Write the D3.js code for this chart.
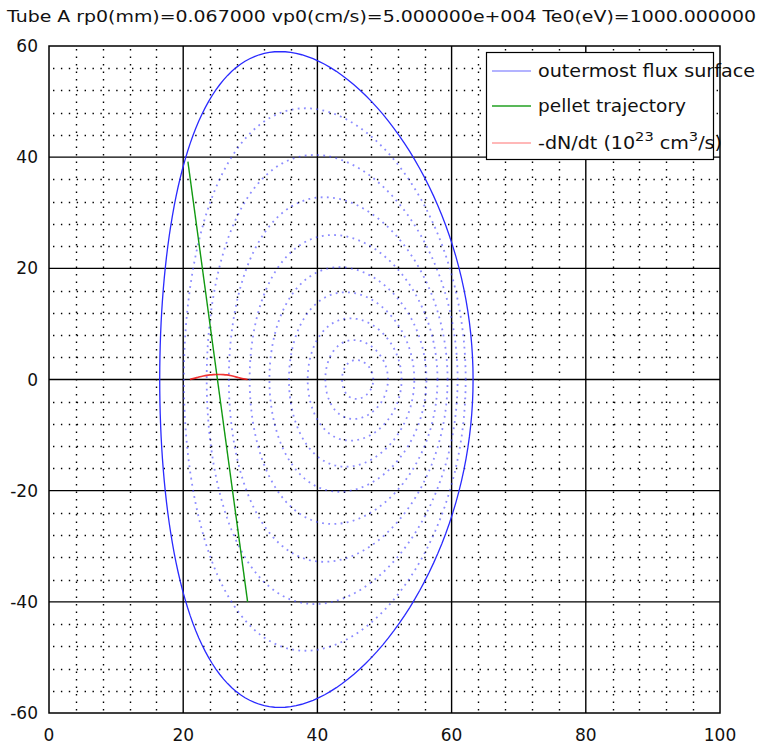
<!DOCTYPE html>
<html>
<head>
<meta charset="utf-8">
<script src="https://cdn.jsdelivr.net/npm/d3@7"></script>
<style>
  html, body { margin: 0; padding: 0; background: #fff; }
  svg { display: block; font-family: "DejaVu Sans", sans-serif; }
</style>
</head>
<body>
<div id="chart"></div>
<script>
// Flux surfaces + pellet trajectory

const titleText = 'Tube A rp0(mm)=0.067000 vp0(cm/s)=5.000000e+004 Te0(eV)=1000.000000';

const xTicks = [0, 20, 40, 60, 80, 100];
const yTicks = [-60, -40, -20, 0, 20, 40, 60];

// outermost flux surface: centre R, half width, top height, R of the top point
const outerSurface = { r0: 39.85, a: 23.35, topZ: 59.0, topR: 34.4 };

// inner (dotted) flux surfaces, core to edge
const innerR0   = [46.0, 45.85, 45.55, 45.1, 44.55, 43.9, 43.1, 42.2, 41.1];
const innerA    = [2.33, 4.67, 7.0, 9.34, 11.7, 14.0, 16.3, 18.7, 21.0];
const innerTopZ = [3.5, 7.1, 11.0, 15.7, 20.2, 26.0, 32.8, 40.4, 48.8];
const innerTopR = [45.8, 45.4, 44.9, 44.2, 43.3, 42.3, 41.0, 39.6, 38.2];

// pellet trajectory (start, end)
const trajR = [20.7, 29.6];
const trajZ = [39.2, -40.0];

// -dN/dt along R
const dndtR = [21.0, 21.5, 22.0, 22.5, 23.0, 23.5, 24.0, 24.5, 25.0, 25.5, 26.0, 26.5, 27.0, 27.5, 28.0, 28.5, 29.0, 29.6];
const dndtV = [0.0, 0.15, 0.33, 0.5, 0.63, 0.74, 0.82, 0.87, 0.9, 0.9, 0.88, 0.82, 0.72, 0.58, 0.42, 0.26, 0.12, 0.0];

const W = 760, H = 747;
const svg = d3.select('#chart').append('svg').attr('width', W).attr('height', H);

const x = d3.scaleLinear().domain([0, 100]).range([49, 720]);
const y = d3.scaleLinear().domain([-60, 60]).range([713, 46]);

// title
svg.append('text')
  .attr('x', 7).attr('y', 22)
  .attr('font-size', 16.5)
  .attr('fill', '#111')
  .attr('textLength', 749).attr('lengthAdjust', 'spacingAndGlyphs')
  .text(titleText);

// minor dotted grid (every 4 units)
const minorX = d3.range(0, 100, 4).filter(v => v % 20 !== 0);
const minorY = d3.range(-60, 60, 4).filter(v => v % 20 !== 0);
const grid = svg.append('g').attr('stroke', '#000').attr('stroke-width', 1.4).attr('stroke-linecap', 'butt');
grid.selectAll('.gx').data(minorX).join('line')
  .attr('x1', d => Math.round(x(d)) + 0.5).attr('x2', d => Math.round(x(d)) + 0.5)
  .attr('y1', y(60)).attr('y2', y(-60))
  .attr('stroke-dasharray', '1.4,6.1')
  .attr('stroke-dashoffset', -3);
grid.selectAll('.gy').data(minorY).join('line')
  .attr('y1', d => Math.round(y(d)) + 0.5).attr('y2', d => Math.round(y(d)) + 0.5)
  .attr('x1', x(0)).attr('x2', x(100))
  .attr('stroke-dasharray', '1.4,6.5')
  .attr('stroke-dashoffset', -4);

// major grid
const major = svg.append('g').attr('stroke', '#000').attr('stroke-width', 1.4);
major.selectAll('.mx').data(xTicks.slice(1, -1)).join('line')
  .attr('x1', d => x(d)).attr('x2', d => x(d))
  .attr('y1', y(60)).attr('y2', y(-60));
major.selectAll('.my').data(yTicks.slice(1, -1)).join('line')
  .attr('y1', d => y(d)).attr('y2', d => y(d))
  .attr('x1', x(0)).attr('x2', x(100));

// flux surface outline from (R0, a, top height, top R)
const thetas = d3.range(0, 2 * Math.PI, Math.PI / 90);
function surfacePoints(s) {
  const kappa = s.topZ / s.a;
  const delta = Math.asin(Math.max(-1, Math.min(1, (s.r0 - s.topR) / s.a)));
  return thetas.map(t => [s.r0 + s.a * Math.cos(t + delta * Math.sin(t)), kappa * s.a * Math.sin(t)]);
}
const surfLine = d3.line().x(d => x(d[0])).y(d => y(d[1])).curve(d3.curveLinearClosed);

const inner = innerR0.map((r0, i) => ({ r0, a: innerA[i], topZ: innerTopZ[i], topR: innerTopR[i] }));
svg.append('g').selectAll('path').data(inner).join('path')
  .attr('d', d => surfLine(surfacePoints(d)))
  .attr('fill', 'none')
  .attr('stroke', '#4646ff')
  .attr('stroke-opacity', 0.62)
  .attr('stroke-width', 1.8)
  .attr('stroke-dasharray', '1.8,4.4');

svg.append('path')
  .attr('d', surfLine(surfacePoints(outerSurface)))
  .attr('fill', 'none')
  .attr('stroke', '#2a2aff')
  .attr('stroke-width', 1.3);

// pellet trajectory
svg.append('line')
  .attr('x1', x(trajR[0])).attr('y1', y(trajZ[0]))
  .attr('x2', x(trajR[1])).attr('y2', y(trajZ[1]))
  .attr('stroke', '#119911').attr('stroke-width', 1.4);

// -dN/dt
svg.append('path')
  .attr('d', d3.line().x((d, i) => x(dndtR[i])).y(d => y(d)).curve(d3.curveMonotoneX)(dndtV))
  .attr('fill', 'none')
  .attr('stroke', '#ee1111')
  .attr('stroke-opacity', 0.85)
  .attr('stroke-width', 1.7);

// axis labels
svg.append('g').selectAll('text').data(xTicks).join('text')
  .attr('x', d => x(d)).attr('y', 741)
  .attr('text-anchor', 'middle').attr('font-size', 17).attr('fill', '#111')
  .text(d => d);
svg.append('g').selectAll('text').data(yTicks).join('text')
  .attr('x', 38).attr('y', d => y(d) + 6)
  .attr('text-anchor', 'end').attr('font-size', 17).attr('fill', '#111')
  .text(d => d);

// legend
const legendItems = [
  { label: 'outermost flux surface', color: '#9a9aff', len: 217 },
  { label: 'pellet trajectory', color: '#22a022', len: 148 },
  { label: '-dN/dt', color: '#ffa0a0', len: 184 }
];
const lg = svg.append('g');
lg.append('rect')
  .attr('x', 486.5).attr('y', 52.5).attr('width', 227).attr('height', 107)
  .attr('fill', '#fff').attr('stroke', '#000').attr('stroke-width', 1.2);
const rows = [71, 106, 143];
legendItems.forEach((it, i) => {
  lg.append('line')
    .attr('x1', 492).attr('x2', 531).attr('y1', rows[i]).attr('y2', rows[i])
    .attr('stroke', it.color).attr('stroke-width', 1.6);
  const t = lg.append('text')
    .attr('x', 538).attr('y', rows[i] + 6)
    .attr('font-size', 17).attr('fill', '#111')
    .attr('textLength', it.len).attr('lengthAdjust', 'spacingAndGlyphs');
  if (i < 2) {
    t.text(it.label);
  } else {
    t.append('tspan').text('-dN/dt (10');
    t.append('tspan').attr('font-size', 13).attr('dy', -8).text('23');
    t.append('tspan').attr('dy', 8).text(' cm');
    t.append('tspan').attr('font-size', 13).attr('dy', -8).text('3');
    t.append('tspan').attr('dy', 8).text('/s)');
  }
});

// frame on top
svg.append('rect')
  .attr('x', x(0)).attr('y', y(60))
  .attr('width', x(100) - x(0)).attr('height', y(-60) - y(60))
  .attr('fill', 'none').attr('stroke', '#000').attr('stroke-width', 1.5);
</script>
</body>
</html>
